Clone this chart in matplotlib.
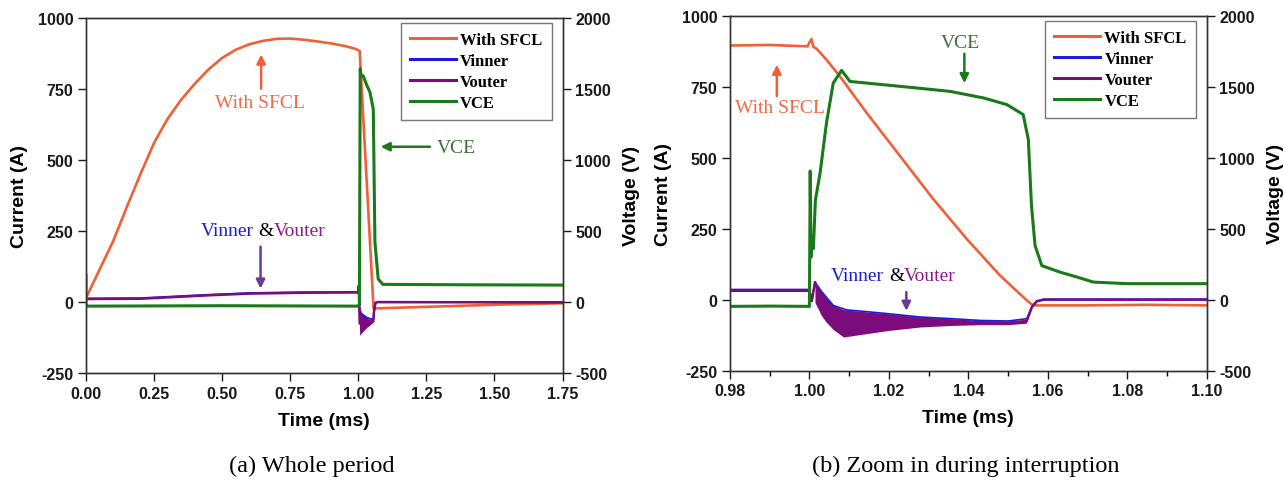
import matplotlib.pyplot as plt
import matplotlib.transforms as mtransforms
from matplotlib.ticker import MultipleLocator

# ---------------- (a) Whole period ----------------
t_sfcl_a = [0.0, 0.05, 0.1, 0.15, 0.2, 0.25, 0.3, 0.35, 0.4, 0.45, 0.5, 0.55, 0.6,
            0.65, 0.7, 0.75, 0.8, 0.85, 0.9, 0.95, 0.99, 1.005, 1.056, 1.06, 1.3, 1.5, 1.75]
i_sfcl_a = [15, 115, 215, 335, 450, 560, 645, 712, 768, 818, 858, 887, 906,
            918, 925, 926, 922, 916, 909, 900, 890, 882, -22, -22, -15, -9, -4]

t_vin_a = [0.0, 0.2, 0.45, 0.6, 0.8, 1.0, 1.002, 1.004, 1.01, 1.03, 1.055, 1.058, 1.063, 1.07, 1.75]
v_vin_a = [26, 28, 52, 64, 70, 72, 116, -40, -78, -108, -124, -60, -5, 2, 0]
t_vout_a = [0.0, 0.2, 0.45, 0.6, 0.8, 1.0, 1.002, 1.005, 1.02, 1.04, 1.055, 1.058, 1.063, 1.07, 1.75]
v_vout_a = [22, 24, 48, 60, 66, 68, 116, -150, -150, -145, -135, -60, -5, 0, -2]
# envelope of the oscillation during interruption
t_band_a = [1.002, 1.005, 1.01, 1.02, 1.03, 1.04, 1.055]
up_band_a = [116, -50, -80, -95, -110, -120, -128]
lo_band_a = [0, -234, -220, -200, -180, -165, -140]

t_vce_a = [0.0, 0.0, 0.003, 0.5, 1.0, 1.004, 1.007, 1.009, 1.018, 1.03, 1.043, 1.055,
           1.061, 1.073, 1.09, 1.4, 1.75]
v_vce_a = [190, -25, -28, -25, -28, -20, 1640, 1600, 1589, 1530, 1473, 1356,
           421, 163, 125, 122, 120]

# ---------------- (b) Zoom in during interruption ----------------
t_sfcl_b = [0.98, 0.99, 0.9995, 1.0005, 1.001, 1.0018, 1.0043, 1.0077, 1.0144, 1.0228,
            1.0312, 1.0396, 1.048, 1.0547, 1.0563, 1.07, 1.085, 1.10]
i_sfcl_b = [895, 897, 892, 918, 890, 884, 845, 786, 658, 506,
            354, 214, 85, -2, -20, -20, -18, -20]

t_vin_b = [0.98, 1.0, 1.0006, 1.0014, 1.003, 1.006, 1.0094, 1.0128, 1.02, 1.028, 1.036,
           1.043, 1.05, 1.0547, 1.056, 1.0572, 1.059, 1.10]
v_vin_b = [72, 72, -10, 124, 60, -40, -72, -80, -99, -122, -134,
           -146, -150, -134, -48, -8, 4, 4]
t_vout_b = [0.98, 1.0, 1.0006, 1.0014, 1.004, 1.0086, 1.02, 1.036, 1.05, 1.0547,
            1.056, 1.0572, 1.059, 1.10]
v_vout_b = [63, 63, -10, 124, -80, -180, -160, -160, -163, -150,
            -52, -12, 0, 0]
t_band_b = [1.0014, 1.003, 1.004, 1.006, 1.0086, 1.0114, 1.02, 1.028, 1.036, 1.043, 1.05, 1.0547]
up_band_b = [124, 60, 20, -40, -70, -78, -99, -122, -134, -146, -150, -140]
lo_band_b = [-20, -110, -150, -210, -263, -251, -216, -192, -181, -176, -176, -165]

t_vce_b = [0.98, 0.99, 1.0, 1.0002, 1.0004, 1.0007, 1.001, 1.0015, 1.0027, 1.0043, 1.006,
           1.0081, 1.0102, 1.0186, 1.027, 1.0354, 1.0438, 1.0497, 1.0538, 1.0551, 1.0559,
           1.0568, 1.0585, 1.0631, 1.0673, 1.0715, 1.08, 1.10]
v_vce_b = [-47, -45, -47, 906, 300, 428, 360, 700, 895, 1246, 1526,
           1615, 1537, 1514, 1491, 1467, 1421, 1374, 1304, 1129, 661,
           381, 240, 194, 160, 124, 113, 113]

c_sfcl = '#f15f38'
c_vin = '#1c1cd8'
c_vout = '#7c0c7c'
c_vce = '#1a7a1a'

plt.rcParams['font.family'] = 'Liberation Sans'
plt.rcParams['font.weight'] = 'bold'
plt.rcParams['axes.labelweight'] = 'bold'
plt.rcParams['axes.unicode_minus'] = False

fig = plt.figure(figsize=(12.84, 4.81), dpi=100)


def style_axes(ax1, ax2):
    for ax in (ax1, ax2):
        for sp in ax.spines.values():
            sp.set_color('#333333')
            sp.set_linewidth(1.0)
        ax.tick_params(direction='out', length=5.5, width=1.0, pad=3.5,
                       labelsize=11.5, colors='#1a1a1a')
        ax.tick_params(which='minor', direction='out', length=3.5, width=1.0)
    ax1.set_ylim(-250, 1000)
    ax1.set_yticks([-250, 0, 250, 500, 750, 1000])
    ax2.set_ylim(-500, 2000)
    ax2.set_yticks([-500, 0, 500, 1000, 1500, 2000])
    ax1.set_ylabel('Current (A)', fontsize=14, labelpad=7)
    ax2.set_ylabel('Voltage (V)', fontsize=14, labelpad=9)
    ax1.set_xlabel('Time (ms)', fontsize=14, labelpad=8)


def add_legend(ax1, ax2):
    h1, l1 = ax1.get_legend_handles_labels()
    h2, l2 = ax2.get_legend_handles_labels()
    leg = ax2.legend(h1 + h2, l1 + l2, loc='upper right', bbox_to_anchor=(0.977, 0.985),
                     prop={'family': 'Liberation Serif', 'weight': 'bold', 'size': 12},
                     fancybox=False, framealpha=1, edgecolor='#777777',
                     handlelength=2.75, handletextpad=0.25, labelspacing=0.3,
                     borderpad=0.55, borderaxespad=0)
    leg.get_frame().set_linewidth(1.0)
    for line in leg.get_lines():
        line.set_linewidth(2.2)


def vv_label(ax, x, y):
    # "Vinner &Vouter" in three colours
    tr = ax.transData
    kw = dict(fontsize=14, family='Liberation Serif', fontweight='normal', va='center')
    ax.text(x, y, 'Vinner', color=c_vin, ha='right',
            transform=mtransforms.offset_copy(tr, fig=fig, x=-10, y=0, units='dots'), **kw)
    ax.text(x, y, '&', color='black', ha='center',
            transform=mtransforms.offset_copy(tr, fig=fig, x=2.4, y=0, units='dots'), **kw)
    ax.text(x, y, 'Vouter', color='#8a1a8a', ha='left',
            transform=mtransforms.offset_copy(tr, fig=fig, x=10, y=0, units='dots'), **kw)


def arrow(ax, tail, tip, color):
    ax.annotate('', xy=tip, xytext=tail,
                arrowprops=dict(arrowstyle='-|>', color=color, lw=1.8, mutation_scale=13,
                                shrinkA=0, shrinkB=0))


serif = dict(fontsize=14, family='Liberation Serif', fontweight='normal',
             ha='center', va='center')

# ---- panel (a) ----
ax1 = fig.add_axes([0.0670, 0.2218, 0.3711, 0.7397])
ax2 = ax1.twinx()
ax1.plot(t_sfcl_a, i_sfcl_a, color=c_sfcl, lw=1.9, label='With SFCL')
ax2.plot(t_vin_a, v_vin_a, color=c_vin, lw=1.4, label='Vinner')
ax2.plot(t_vout_a, v_vout_a, color=c_vout, lw=1.8, label='Vouter')
ax2.fill_between(t_band_a, lo_band_a, up_band_a, color=c_vout, lw=0)
ax2.plot(t_vce_a, v_vce_a, color=c_vce, lw=2.2, label='VCE')
ax1.set_xlim(0, 1.75)
ax1.set_xticks([0, 0.25, 0.5, 0.75, 1.0, 1.25, 1.5, 1.75])
ax1.xaxis.set_major_formatter(plt.FormatStrFormatter('%.2f'))
style_axes(ax1, ax2)
add_legend(ax1, ax2)

ax2.text(0.639, 1406, 'With SFCL', color='#f06a48', **serif)
arrow(ax2, (0.643, 1500), (0.643, 1740), c_sfcl)
vv_label(ax2, 0.651, 506)
arrow(ax2, (0.641, 390), (0.641, 95), '#6a3a9a')
ax2.text(1.361, 1084, 'VCE', color='#3b6e35', **serif)
arrow(ax2, (1.263, 1092), (1.082, 1092), c_vce)

fig.text(0.243, 0.030, '(a) Whole period', fontsize=17.5, family='Liberation Serif',
         fontweight='normal', ha='center', va='center')

# ---- panel (b) ----
ax3 = fig.add_axes([0.5685, 0.2272, 0.3713, 0.7381])
ax4 = ax3.twinx()
ax3.plot(t_sfcl_b, i_sfcl_b, color=c_sfcl, lw=1.9, label='With SFCL')
ax4.plot(t_vin_b, v_vin_b, color=c_vin, lw=1.2, label='Vinner')
ax4.plot(t_vout_b, v_vout_b, color=c_vout, lw=1.8, label='Vouter')
ax4.fill_between(t_band_b, lo_band_b, up_band_b, color=c_vout, lw=0)
ax4.plot(t_vce_b, v_vce_b, color=c_vce, lw=2.2, label='VCE')
ax3.set_xlim(0.98, 1.10)
ax3.set_xticks([0.98, 1.00, 1.02, 1.04, 1.06, 1.08, 1.10])
ax3.xaxis.set_minor_locator(MultipleLocator(0.01))
ax3.xaxis.set_major_formatter(plt.FormatStrFormatter('%.2f'))
style_axes(ax3, ax4)
add_legend(ax3, ax4)

ax4.text(0.9925, 1350, 'With SFCL', color='#f06a48', **serif)
arrow(ax4, (0.9918, 1434), (0.9918, 1655), c_sfcl)
ax4.text(1.038, 1814, 'VCE', color='#3b6e35', **serif)
arrow(ax4, (1.039, 1732), (1.039, 1525), c_vce)
vv_label(ax4, 1.0213, 172)
arrow(ax4, (1.0244, 54), (1.0244, -78), '#6a3a9a')

fig.text(0.752, 0.030, '(b) Zoom in during interruption', fontsize=17.5,
         family='Liberation Serif', fontweight='normal', ha='center', va='center')

fig.savefig('out.png', dpi=100)
